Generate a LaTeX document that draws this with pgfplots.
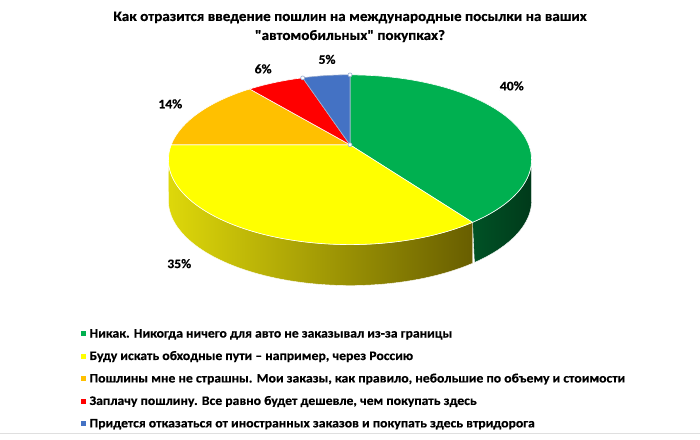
\documentclass[border=0pt]{standalone}
\usepackage{fontspec}
\setmainfont{Carlito}[FakeStretch=1.06, Ligatures=TeXOff, BoldFeatures={FakeBold=0.4}]
\usepackage{pgfplots}
\pgfplotsset{compat=1.18}

\definecolor{cGreen}{RGB}{0,176,80}
\definecolor{cYellow}{RGB}{255,255,0}
\definecolor{cOrange}{RGB}{255,192,0}
\definecolor{cRed}{RGB}{255,0,0}
\definecolor{cBlue}{RGB}{68,114,196}
\definecolor{sideGreenL}{RGB}{0,82,38}
\definecolor{sideGreenR}{RGB}{0,58,26}
\definecolor{sideYellowL}{RGB}{222,216,10}
\definecolor{sideYellowR}{RGB}{104,94,0}
\definecolor{handle}{RGB}{150,170,205}

% shares in percent
\def\vA{40}\def\vB{35}\def\vC{14}\def\vD{6}\def\vE{5}
% cumulative angles, clockwise from 12 o'clock
\pgfmathsetmacro\aA{0}
\pgfmathsetmacro\aB{\aA+3.6*\vA}
\pgfmathsetmacro\aC{\aB+3.6*\vB}
\pgfmathsetmacro\aD{\aC+3.6*\vC}
\pgfmathsetmacro\aE{\aD+3.6*\vD}
\pgfmathsetmacro\aF{\aE+3.6*\vE}

% pie geometry (pixels, y up), simple perspective: w = 1 + e*cos(t)
\def\px{350}\def\py{295}      % centre of the pie
\def\R{179}\def\K{82.35}\def\e{0.176}\def\dep{41}
% silhouette angles (cos t = -e)
\pgfmathsetmacro\sR{acos(-\e)}
\pgfmathsetmacro\sL{360-\sR}

\newcommand\slice[4][white]{%
  \addplot[fill=#4, draw=#1, line width=0.6pt, domain=#2:#3, samples=60, variable=\t]
    ({\px+\R*sin(\t)/(1+\e*cos(\t))},{\py+\K*cos(\t)/(1+\e*cos(\t))})
    -- (axis cs:\px,\py) -- cycle;}
\newcommand\side[4]{%
  \addplot[left color=#3, right color=#4, draw=white, line width=0.4pt,
    domain=0:2, samples=121, variable=\s]
    ({\px+\R*sin(#1+(#2-#1)*(1-abs(1-\s)))/(1+\e*cos(#1+(#2-#1)*(1-abs(1-\s))))},
     {\py+\K*cos(#1+(#2-#1)*(1-abs(1-\s)))/(1+\e*cos(#1+(#2-#1)*(1-abs(1-\s))))-\dep*(\s>1)})
    -- cycle;}

\begin{document}
\begin{tikzpicture}
\begin{axis}[
  scale only axis, width=700bp, height=440bp,
  xmin=0, xmax=700, ymin=0, ymax=440,
  hide axis, clip=false,
]
  % sides
  \side{\sR}{\aB}{sideGreenL}{sideGreenR}
  \side{\aB}{\sL}{sideYellowL}{sideYellowR}
  % top face
  \slice{\aA}{\aB}{cGreen}
  \slice{\aB}{\aC}{cYellow}
  \slice{\aC}{\aD}{cOrange}
  \slice{\aD}{\aE}{cRed}
  \slice[handle]{\aE}{\aF}{cBlue}
  % selection handles of the blue slice
  \addplot[only marks, mark=*, mark size=2pt, mark options={fill=white, draw=handle, line width=0.6pt}]
    coordinates {(350,365) (302.6,362) (350,295)};

  % data labels
  \begin{scope}[font=\bfseries\fontsize{13}{15}\selectfont]
    \node at (axis cs:512,354) {40\%};
    \node at (axis cs:179,176) {35\%};
    \node at (axis cs:170,336) {14\%};
    \node at (axis cs:263,371) {6\%};
    \node at (axis cs:327,380.5) {5\%};
  \end{scope}

  % title
  \node[anchor=base, font=\bfseries\fontsize{14.35}{17}\selectfont] at (axis cs:350,419)
    {Как отразится введение пошлин на международные посылки на ваших};
  \node[anchor=base, font=\bfseries\fontsize{14.35}{17}\selectfont] at (axis cs:350,400)
    {"автомобильных" покупках?};

  % legend
  \addplot[only marks, mark=square*, mark size=2pt, color=cGreen]  coordinates {(82.5,106)};
  \addplot[only marks, mark=square*, mark size=2pt, color=cYellow] coordinates {(82.5,83.5)};
  \addplot[only marks, mark=square*, mark size=2pt, color=cOrange] coordinates {(82.5,61)};
  \addplot[only marks, mark=square*, mark size=2pt, color=cRed]    coordinates {(82.5,38.5)};
  \addplot[only marks, mark=square*, mark size=2pt, color=cBlue]   coordinates {(82.5,16)};
  \begin{scope}[font=\bfseries\fontsize{13}{15}\selectfont, anchor=base west, inner sep=0pt]
    \node at (axis cs:89,102)   {Никак. Никогда ничего для авто не заказывал из-за границы};
    \node at (axis cs:89,79.5)  {Буду искать обходные пути – например, через Россию};
    \node at (axis cs:89,57)    {Пошлины мне не страшны. Мои заказы, как правило, небольшие по объему и стоимости};
    \node at (axis cs:89,34.5)  {Заплачу пошлину. Все равно будет дешевле, чем покупать здесь};
    \node at (axis cs:89,12)    {Придется отказаться от иностранных заказов и покупать здесь втридорога};
  \end{scope}
  \draw[gray!25, line width=1pt] (axis cs:0,6) -- (axis cs:700,6);
\end{axis}
\path (0,0) rectangle (700bp,440bp);
\end{tikzpicture}
\end{document}
